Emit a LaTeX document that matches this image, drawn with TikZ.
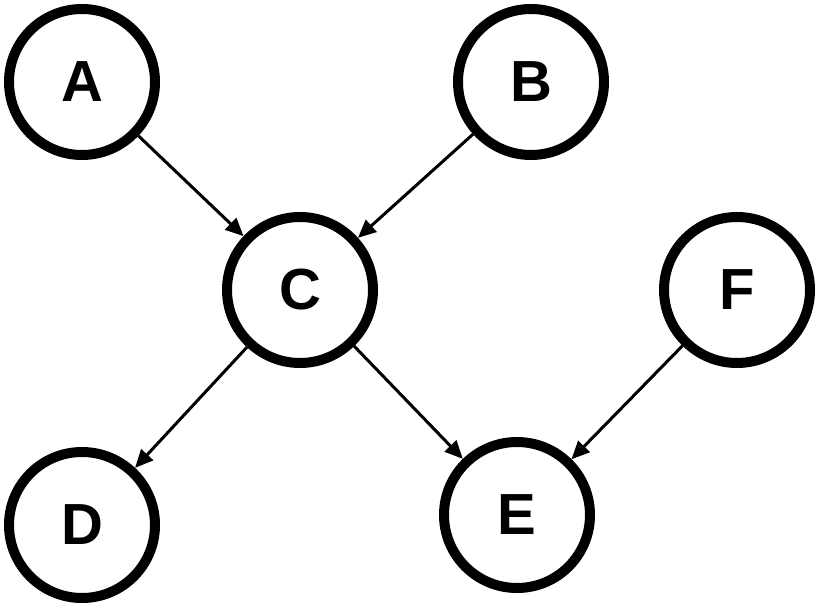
\documentclass[tikz,border=0pt]{standalone}
\usepackage{fontspec}
\setmainfont{Liberation Sans}
\usetikzlibrary{arrows.meta}
\begin{document}
\begin{tikzpicture}[x=1pt,y=-1pt,
  vnode/.style={circle,draw,line width=10pt,minimum size=146pt,inner sep=0pt,font=\fontsize{58}{60}\selectfont\bfseries,outer sep=5pt},
  edge/.style={line width=3pt,-{Triangle[length=18pt,width=16pt]}}]
\useasboundingbox (0,0) rectangle (821,609);
\node[vnode] (A) at (82,82) {A};
\node[vnode] (B) at (531,82) {B};
\node[vnode] (C) at (300,290) {C};
\node[vnode] (F) at (737,290) {F};
\node[vnode] (D) at (82,525) {D};
\node[vnode] (E) at (517,515) {E};
\draw[edge] (A) -- (C);
\draw[edge] (B) -- (C);
\draw[edge] (C) -- (D);
\draw[edge] (C) -- (E);
\draw[edge] (F) -- (E);
\end{tikzpicture}
\end{document}
